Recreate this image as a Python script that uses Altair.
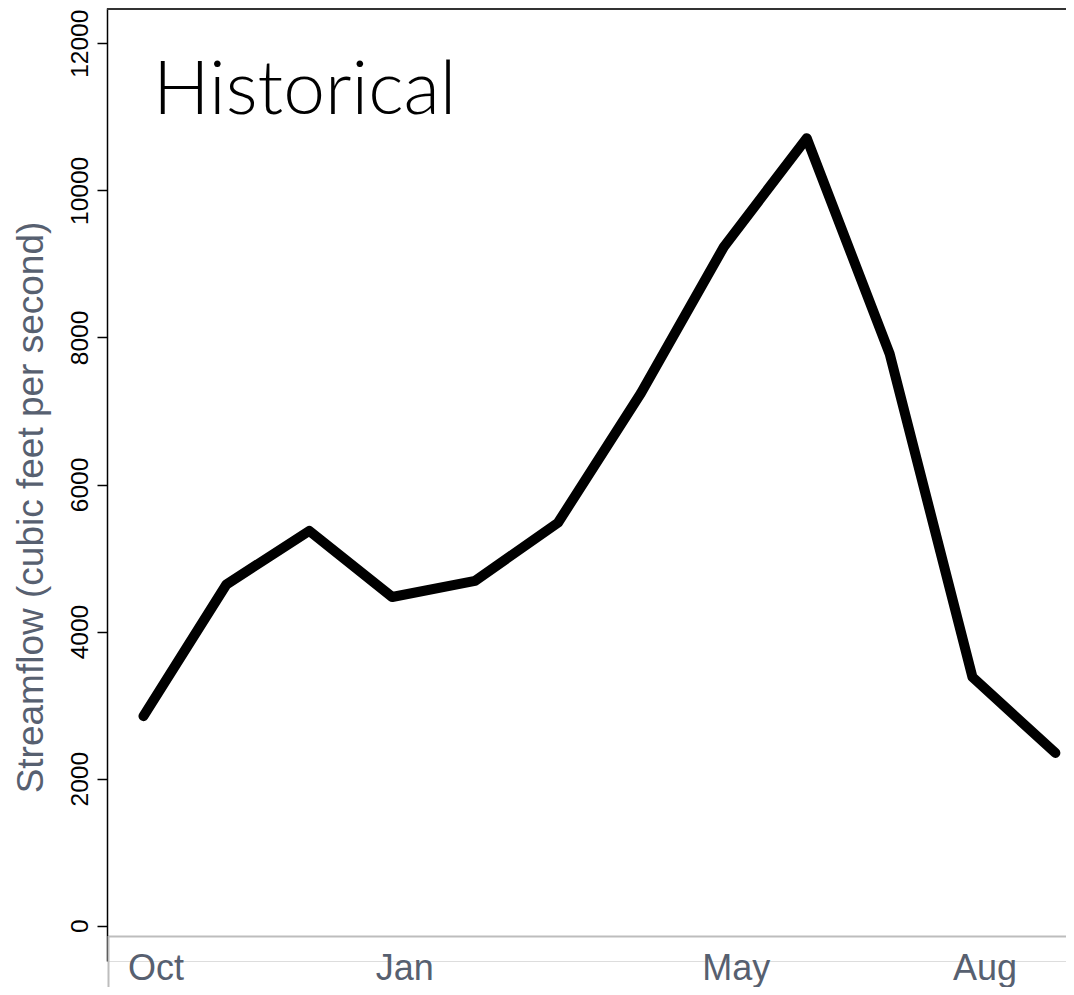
import altair as alt
import pandas as pd

months = ["Oct", "Nov", "Dec", "Jan", "Feb", "Mar", "Apr", "May", "Jun", "Jul", "Aug", "Sep"]
month_index = list(range(1, 13))
streamflow = [2850, 4640, 5370, 4470, 4690, 5480, 7240, 9230, 10710, 7780, 3380, 2350]

label_months = ["Oct", "Jan", "May", "Aug"]
label_index = [1, 4, 8, 11]
y_ticks = [0, 2000, 4000, 6000, 8000, 10000, 12000]
panel_title = ["Historical"]

df = pd.DataFrame({"idx": month_index, "month": months, "flow": streamflow})

W, H = 959, 953
GRAY = "#576070"
label_map = "{" + ",".join(f"{i}:'{m}'" for i, m in zip(label_index, label_months)) + "}"

x_scale = alt.Scale(domain=[0.56, 12.128], nice=False, zero=False)
y_scale = alt.Scale(domain=[-480, 12480], nice=False, zero=False)

line = alt.Chart(df).mark_line(
    color="black", strokeWidth=10, strokeCap="round", strokeJoin="round"
).encode(
    x=alt.X("idx:Q", scale=x_scale, axis=alt.Axis(
        values=label_index, labelExpr=f"{label_map}[datum.value]",
        title=None, ticks=False, grid=False, offset=-25,
        domainColor="#bdbdbd", domainWidth=2,
        labelFont="Liberation Sans", labelFontSize=36, labelColor=GRAY,
        labelPadding=15, labelOffset=12, labelBaseline="top", labelAlign="center",
        labelFlush=False,
    )),
    y=alt.Y("flow:Q", scale=y_scale, axis=alt.Axis(
        values=y_ticks, grid=False, format="d",
        title="Streamflow (cubic feet per second)",
        titleFont="Liberation Sans", titleFontSize=37, titleColor=GRAY,
        titleFontWeight="normal", titleAngle=270, titleAlign="center",
        titleBaseline="alphabetic", titleX=-65, titleY=499,
        domainColor="black", domainWidth=1.5, tickColor="black", tickWidth=1.5, tickSize=10,
        labelAngle=270, labelAlign="center", labelBaseline="alphabetic",
        labelFont="Liberation Sans", labelFontSize=24.5, labelColor="black",
        labelPadding=10, labelFlush=False,
    )),
)

title_df = pd.DataFrame({"t": panel_title})
title_text = alt.Chart(title_df).mark_text(
    font="Lato", fontSize=75, fontWeight=300, align="left", baseline="alphabetic", color="black"
).encode(text="t:N", x=alt.value(46), y=alt.value(106))

top_rule = alt.Chart(title_df).mark_rule(color="#333333", strokeWidth=2).encode(
    x=alt.value(0), x2=alt.value(W), y=alt.value(1)
)
corner_rule = alt.Chart(title_df).mark_rule(color="#bdbdbd", strokeWidth=2).encode(
    x=alt.value(1.5), y=alt.value(928), y2=alt.value(979)
)

chart = alt.layer(top_rule, corner_rule, line, title_text).properties(
    width=W, height=H,
    autosize=alt.AutoSizeParams(type="none"),
    padding={"left": 99, "top": 0, "right": 0, "bottom": 26},
).configure_view(stroke=None).configure(background="white")

chart.save("out.html", embed_options={"renderer": "svg", "actions": False})
